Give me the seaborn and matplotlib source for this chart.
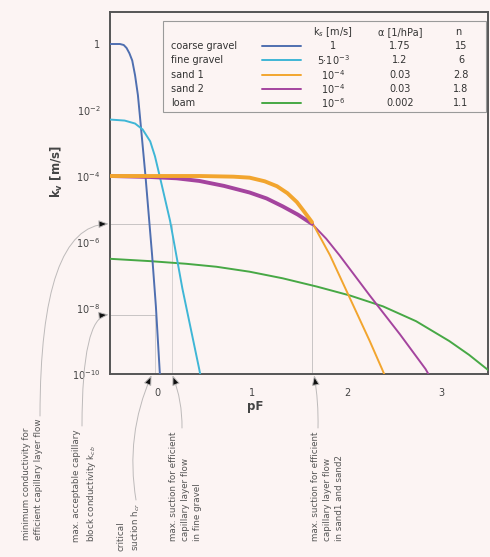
import numpy as np
import pandas as pd
import matplotlib
matplotlib.use("Agg")
import matplotlib.pyplot as plt
import seaborn as sns
from matplotlib.lines import Line2D
from matplotlib.patches import Rectangle

# ---------------- data ----------------
soils = ["coarse gravel", "fine gravel", "sand 1", "sand 2", "loam"]
ks_labels = ["1", "5·10$^{-3}$", "10$^{-4}$", "10$^{-4}$", "10$^{-6}$"]
alpha_labels = ["1.75", "1.2", "0.03", "0.03", "0.002"]
n_labels = ["15", "6", "2.8", "1.8", "1.1"]
colors = ["#4f6fb0", "#3fb6d6", "#f2a52e", "#a4449e", "#47a845"]

pf_coarse = [-0.50, -0.40, -0.36, -0.33, -0.30, -0.27, -0.24, -0.21, -0.19, -0.13, -0.06, -0.02, 0.02, 0.03]
logk_coarse = [0.00, 0.00, -0.03, -0.12, -0.28, -0.50, -0.95, -1.55, -2.15, -4.00, -6.40, -7.95, -9.90, -10.30]

pf_fine = [-0.50, -0.35, -0.24, -0.16, -0.08, -0.03, 0.02, 0.13, 0.26, 0.44, 0.46]
logk_fine = [-2.29, -2.32, -2.41, -2.59, -2.95, -3.40, -4.00, -5.36, -7.41, -9.88, -10.20]

pf_sand1 = [-0.50, 0.44, 0.80, 0.97, 1.13, 1.26, 1.37, 1.47, 1.55, 1.63, 1.82, 2.03, 2.24, 2.37, 2.40]
logk_sand1 = [-4.00, -4.00, -4.02, -4.05, -4.16, -4.31, -4.52, -4.79, -5.09, -5.40, -6.40, -7.70, -9.00, -9.85, -10.05]

pf_sand2 = [-0.50, -0.08, 0.20, 0.44, 0.70, 0.97, 1.15, 1.32, 1.48, 1.63, 1.78, 1.92, 2.24, 2.56, 2.83, 2.87]
logk_sand2 = [-4.00, -4.03, -4.07, -4.15, -4.30, -4.50, -4.68, -4.92, -5.17, -5.45, -5.90, -6.40, -7.62, -8.80, -9.85, -10.05]

pf_loam = [-0.50, -0.08, 0.30, 0.62, 0.97, 1.32, 1.68, 2.03, 2.38, 2.73, 3.08, 3.29, 3.50]
logk_loam = [-6.51, -6.58, -6.66, -6.75, -6.90, -7.10, -7.35, -7.62, -7.95, -8.40, -9.00, -9.42, -9.90]

ytick_exponents = [0, -2, -4, -6, -8, -10]
ytick_labels = ["1", "10$^{-2}$", "10$^{-4}$", "10$^{-6}$", "10$^{-8}$", "10$^{-10}$"]
xtick_values = [0, 1, 2, 3]

# reference levels (log10 K) and suctions (pF)
k_efficient = -5.45
k_block = -8.2
pf_critical = -0.03
pf_fine_max = 0.15
pf_sand_max = 1.63

# ---------------- build table ----------------
curves = {
    "coarse gravel": (pf_coarse, logk_coarse),
    "fine gravel": (pf_fine, logk_fine),
    "sand 1": (pf_sand1, logk_sand1),
    "sand 2": (pf_sand2, logk_sand2),
    "loam": (pf_loam, logk_loam),
}
rows = []
for name, (pf, lk) in curves.items():
    for p, l in zip(pf, lk):
        rows.append({"soil": name, "pF": p, "K": 10.0 ** l})
df = pd.DataFrame(rows)
palette = dict(zip(soils, colors))

# ---------------- figure ----------------
sns.set_theme(style="white")
plt.rcParams["font.family"] = ["DejaVu Sans"]
bg = "#fcf4f3"
W, H = 490, 557
fig = plt.figure(figsize=(W / 100, H / 100), dpi=100, facecolor=bg)
ax = fig.add_axes([110 / W, 1 - 374 / H, 378 / W, 362 / H])
ax.set_facecolor(bg)

def fpx(x, y):
    return (x / W, 1 - y / H)

ax.set_yscale("log")

# reference lines
gc = "#c8c4c4"
ax.plot([-0.6, pf_sand_max], [10 ** k_efficient] * 2, color=gc, lw=0.7, zorder=1)
ax.plot([pf_sand_max] * 2, [10 ** k_efficient, 1e-11], color=gc, lw=0.7, zorder=1)
ax.plot([pf_fine_max] * 2, [10 ** k_efficient, 1e-11], color=gc, lw=0.5, zorder=1)
ax.plot([-0.6, pf_critical], [10 ** k_block] * 2, color=gc, lw=0.7, zorder=1)
ax.plot([pf_critical] * 2, [10 ** k_block, 1e-11], color=gc, lw=0.5, zorder=1)

order = ["loam", "coarse gravel", "fine gravel", "sand 2", "sand 1"]
for name in order:
    sub = df[df["soil"] == name]
    sns.lineplot(data=sub, x="pF", y="K", color=palette[name], lw=1.4,
                 estimator=None, sort=False, ax=ax, legend=False, zorder=3)
for name in ["sand 2", "sand 1"]:
    sub = df[(df["soil"] == name) & (df["pF"] <= pf_sand_max)]
    sns.lineplot(data=sub, x="pF", y="K", color=palette[name], lw=2.8,
                 estimator=None, sort=False, ax=ax, legend=False, zorder=4)

ax.set_xlim(-0.505, 3.49)
ax.set_ylim(1e-10, 10 ** 0.97)
ax.set_yticks([10.0 ** e for e in ytick_exponents])
ax.set_yticklabels(ytick_labels)
ax.yaxis.set_minor_locator(matplotlib.ticker.NullLocator())
ax.set_xticks(xtick_values)
ax.set_xticklabels([str(v) for v in xtick_values])
ax.tick_params(axis="both", labelsize=7, colors="#444444", length=2, width=0.6, pad=4)
ax.tick_params(axis="y", pad=5)
ax.tick_params(axis="x", pad=8)
for s in ax.spines.values():
    s.set_color("#555555")
    s.set_linewidth(1.4)

ax.set_xlabel("pF", fontsize=8.5, fontweight="bold", color="#444444")
ax.set_ylabel("k$_\\mathbf{v}$ [m/s]", fontsize=8.5, fontweight="bold", color="#444444")
ax.xaxis.set_label_coords(0.384, -0.072)
ax.yaxis.set_label_coords(-0.118, 0.56)

# ---------------- legend table ----------------
def axc(x, y):
    return ((x - 110) / 378, (374 - y) / 362)

bx0, by0 = axc(163, 112)
bx1, by1 = axc(486, 21)
ax.add_patch(Rectangle((bx0, by0), bx1 - bx0, by1 - by0, transform=ax.transAxes,
                       facecolor=bg, edgecolor="#9a9a9a", lw=0.8, zorder=6))
tc = "#333333"
fs = 7
hy = axc(0, 32)[1]
ax.text(axc(333, 0)[0], hy, "k$_s$ [m/s]", transform=ax.transAxes, ha="center", va="center", fontsize=fs, color=tc, zorder=7)
ax.text(axc(400, 0)[0], hy, "α [1/hPa]", transform=ax.transAxes, ha="center", va="center", fontsize=fs, color=tc, zorder=7)
ax.text(axc(458, 0)[0], hy, "n", transform=ax.transAxes, ha="center", va="center", fontsize=fs, color=tc, zorder=7)
row_y = [46, 60, 75, 89, 103]
for i, name in enumerate(soils):
    yy = axc(0, row_y[i])[1]
    ax.text(axc(171, 0)[0], yy, name, transform=ax.transAxes, ha="left", va="center", fontsize=fs, color=tc, zorder=7)
    ax.add_line(Line2D([axc(262, 0)[0], axc(301, 0)[0]], [yy, yy], transform=ax.transAxes,
                       color=colors[i], lw=1.4, zorder=7))
    ax.text(axc(333, 0)[0], yy, ks_labels[i], transform=ax.transAxes, ha="center", va="center", fontsize=fs, color=tc, zorder=7)
    ax.text(axc(400, 0)[0], yy, alpha_labels[i], transform=ax.transAxes, ha="center", va="center", fontsize=fs, color=tc, zorder=7)
    ax.text(axc(461, 0)[0], yy, n_labels[i], transform=ax.transAxes, ha="center", va="center", fontsize=fs, color=tc, zorder=7)

# ---------------- annotations ----------------
afs = 6.3
acol = "#555555"
notes = [
    ("minimum conductivity for\nefficient capillary layer flow", 22, 419),
    ("max. acceptable capillary\nblock conductivity k$_{cb}$", 72, 429),
    ("critical\nsuction h$_{cr}$", 116, 503),
    ("max. suction for efficient\ncapillary layer flow\nin fine gravel", 169, 432),
    ("max. suction for efficient\ncapillary layer flow\nin sand1 and sand2", 311, 432),
]
for txt, x, y in notes:
    fx, fy = fpx(x, y)
    fig.text(fx, fy, txt, rotation=90, ha="left", va="top", multialignment="left",
             fontsize=afs, color=acol, linespacing=1.45)

arrows = [
    ((-0.505, 10 ** k_efficient), (40, 416), "angle3,angleA=90,angleB=0"),
    ((-0.505, 10 ** k_block), (82, 426), "angle3,angleA=90,angleB=0"),
    ((-0.06, 1e-10), (136, 500), "arc3,rad=-0.15"),
    ((pf_fine_max, 1e-10), (182, 428), "arc3,rad=0.1"),
    ((1.65, 1e-10), (318, 428), "arc3,rad=0.05"),
]
for tip, start, cs in arrows:
    ax.annotate("", xy=tip, xycoords="data",
                xytext=(start[0], H - start[1]), textcoords="figure pixels",
                arrowprops=dict(arrowstyle="-|>,head_length=0.5,head_width=0.2", fc="#111111",
                                ec="#bdbaba", lw=0.7, connectionstyle=cs,
                                shrinkA=0, shrinkB=1),
                annotation_clip=False, zorder=8)

fig.savefig("out.png", dpi=100, facecolor=bg)
